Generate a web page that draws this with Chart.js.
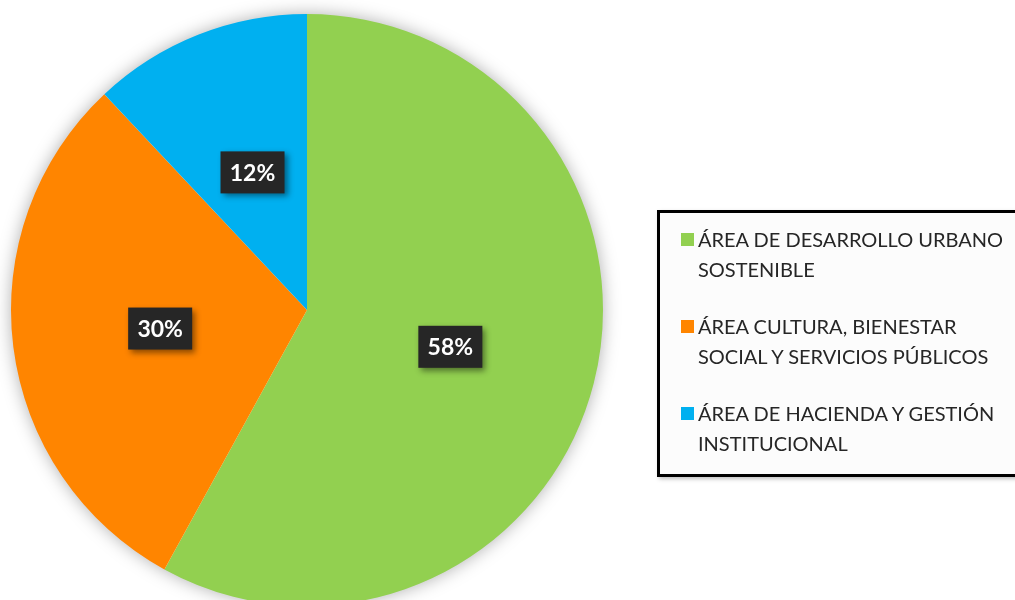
<!DOCTYPE html>
<html>
<head>
<meta charset="utf-8">
<script src="https://cdn.jsdelivr.net/npm/chart.js@4/dist/chart.umd.min.js"></script>
<style>
  html, body { margin: 0; padding: 0; background: #fff; overflow: hidden; }
  #wrap { position: absolute; left: 0; top: 0; width: 1015px; height: 620px; }
  #legend {
    position: absolute; left: 657px; top: 210px; width: 400px; height: 261px;
    border: 3px solid #000; background: #fcfcfc; box-shadow: 2px 2px 4px rgba(0,0,0,0.25);
    font-family: Lato, "Open Sans", sans-serif; font-size: 20px; color: #262626;
  }
  .item { position: absolute; left: 38px; line-height: 30px; }
  .swatch { position: absolute; left: -17px; top: 9px; width: 13px; height: 13px; }
</style>
</head>
<body>
<div id="wrap"><canvas id="c" width="1015" height="620"></canvas></div>
<div id="legend"></div>
<script>
const labels = [
  ['ÁREA DE DESARROLLO URBANO', 'SOSTENIBLE'],
  ['ÁREA CULTURA, BIENESTAR', 'SOCIAL Y SERVICIOS PÚBLICOS'],
  ['ÁREA DE HACIENDA Y GESTIÓN', 'INSTITUCIONAL']
];
const values = [58, 30, 12];
const colors = ['#92D050', '#FF8500', '#00B0F0'];

// legend built by hand, the chart.js one can't wrap like this
const legendEl = document.getElementById('legend');
labels.forEach((lines, i) => {
  const d = document.createElement('div');
  d.className = 'item';
  d.style.top = (11 + i * 87) + 'px';
  d.innerHTML = '<span class="swatch" style="background:' + colors[i] + '"></span>' + lines.join('<br>');
  legendEl.appendChild(d);
});

const pieShadow = {
  id: 'pieShadow',
  beforeDatasetsDraw(chart) {
    const arc = chart.getDatasetMeta(0).data[0];
    const ctx = chart.ctx;
    ctx.save();
    ctx.shadowColor = 'rgba(0,0,0,0.35)';
    ctx.shadowBlur = 18;
    ctx.fillStyle = '#fff';
    ctx.beginPath();
    ctx.arc(arc.x, arc.y, arc.outerRadius - 1, 0, Math.PI * 2);
    ctx.fill();
    ctx.restore();
  }
};

const valueBoxes = {
  id: 'valueBoxes',
  afterDatasetsDraw(chart) {
    const ctx = chart.ctx;
    const meta = chart.getDatasetMeta(0);
    ctx.save();
    ctx.font = 'bold 23px Lato, "Open Sans", sans-serif';
    ctx.textAlign = 'center';
    ctx.textBaseline = 'middle';
    meta.data.forEach((arc, i) => {
      const p = arc.tooltipPosition();
      const w = 64, h = 42;
      ctx.shadowColor = 'rgba(0,0,0,0.45)';
      ctx.shadowBlur = 6;
      ctx.shadowOffsetX = 3;
      ctx.shadowOffsetY = 3;
      ctx.fillStyle = '#262626';
      ctx.fillRect(p.x - w / 2, p.y - h / 2, w, h);
      ctx.shadowColor = 'transparent';
      ctx.fillStyle = '#fff';
      ctx.fillText(values[i] + '%', p.x, p.y + 1);
    });
    ctx.restore();
  }
};

new Chart(document.getElementById('c'), {
  type: 'pie',
  data: {
    labels: labels.map(l => l.join(' ')),
    datasets: [{ data: values, backgroundColor: colors, borderWidth: 0 }]
  },
  options: {
    responsive: false,
    animation: false,
    layout: { padding: { left: 11, top: 14, right: 412, bottom: 14 } },
    plugins: { legend: { display: false }, tooltip: { enabled: false } }
  },
  plugins: [pieShadow, valueBoxes]
});
</script>
</body>
</html>
